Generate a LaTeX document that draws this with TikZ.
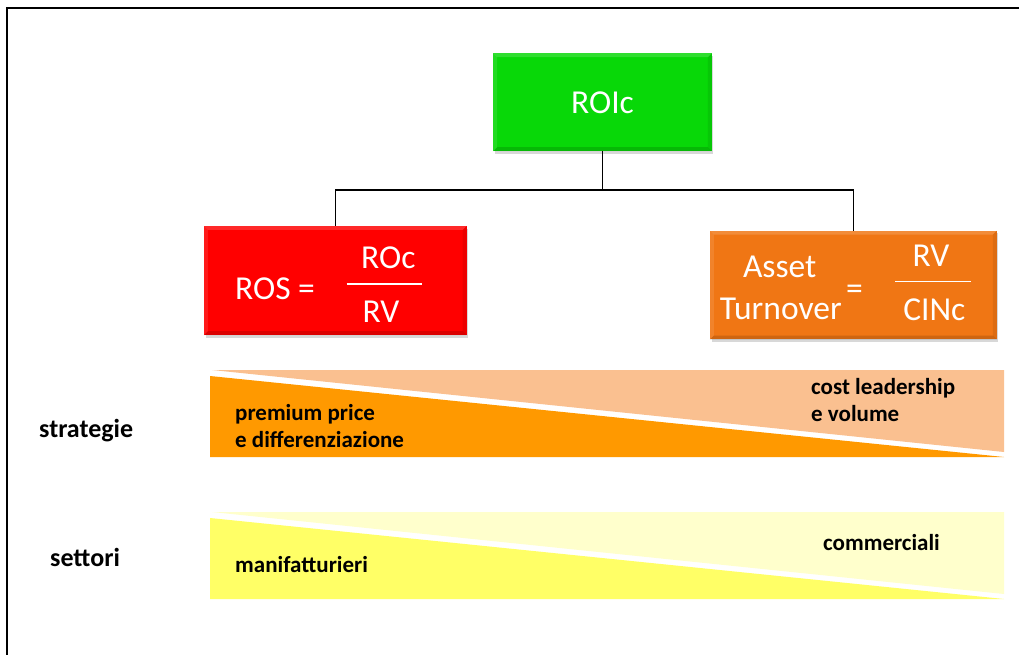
\documentclass[tikz,border=0pt]{standalone}
\usepackage{fontspec}
\setmainfont{Carlito}
\usetikzlibrary{shadows}
\definecolor{roigreen}{RGB}{8,216,8}
\definecolor{rosred}{RGB}{255,0,0}
\definecolor{assetorange}{RGB}{240,118,20}
\definecolor{strdark}{RGB}{255,153,0}
\definecolor{strlight}{RGB}{250,192,144}
\definecolor{setdark}{RGB}{255,255,102}
\definecolor{setlight}{RGB}{255,255,204}
\newcommand\bevelbox[1]{%
  \fill[white,opacity=0.16] (#1.north west) -- (#1.north east) -- ([xshift=-4pt,yshift=-4pt]#1.north east) -- ([xshift=4pt,yshift=-4pt]#1.north west) -- cycle;
  \fill[white,opacity=0.10] (#1.north west) -- (#1.south west) -- ([xshift=4pt,yshift=4pt]#1.south west) -- ([xshift=4pt,yshift=-4pt]#1.north west) -- cycle;
  \fill[black,opacity=0.14] (#1.south west) -- (#1.south east) -- ([xshift=-4pt,yshift=4pt]#1.south east) -- ([xshift=4pt,yshift=4pt]#1.south west) -- cycle;
  \fill[black,opacity=0.08] (#1.north east) -- (#1.south east) -- ([xshift=-4pt,yshift=4pt]#1.south east) -- ([xshift=-4pt,yshift=-4pt]#1.north east) -- cycle;}
\begin{document}
\begin{tikzpicture}[x=1pt,y=-1pt,
  box/.style={draw=none, inner sep=0pt, drop shadow={shadow xshift=1.5pt,shadow yshift=-2.5pt,opacity=0.3}},
  boxtxt/.style={text=white, font=\fontsize{33.5}{40}\selectfont, inner sep=0pt, anchor=base},
  bandtxt/.style={font=\fontsize{23}{28}\selectfont\bfseries, inner sep=0pt, anchor=base west},
  rowlbl/.style={font=\fontsize{26}{31}\selectfont\bfseries, inner sep=0pt, anchor=base west},
  conn/.style={draw=black, line width=1pt},
  fracline/.style={draw=white, line width=1.2pt}]
\fill[white] (0,0) rectangle (1019,655);
\clip (0,0) rectangle (1019,655);
% outer frame
\draw[line width=2pt] (6.7,7.7) rectangle (1040,680);
% boxes
\node[box, fill=roigreen, minimum width=218.4pt, minimum height=97.7pt] (roic) at (602.5,102.2) {};
\node[box, fill=rosred, minimum width=262.5pt, minimum height=109pt] (ros) at (335.25,280.5) {};
\node[box, fill=assetorange, minimum width=286.7pt, minimum height=108.6pt] (asset) at (853.35,285) {};
\bevelbox{roic}
\bevelbox{ros}
\bevelbox{asset}
% connectors
\coordinate (j) at (602.5,190);
\draw[conn] (roic.south) -- (j);
\draw[conn] (j) -| (ros.north);
\draw[conn] (j) -| (asset.north);
% box texts
\node[boxtxt] (troic) at (602.5,114) {ROIc};
\node[boxtxt, anchor=base west] (tros) at (235,299) {ROS =};
\node[boxtxt] (troc) at (388.3,268) {ROc};
\node[boxtxt] (trv) at (381,322) {RV};
\draw[fracline] (346.7,284) -- (422.3,284);
\node[boxtxt] (tasset) at (779.7,277) {Asset};
\node[boxtxt] (tturn) at (780.8,319) {Turnover};
\node[boxtxt] (teq) at (854.5,299) {=};
\node[boxtxt] (trv2) at (931,266) {RV};
\node[boxtxt] (tcinc) at (934.3,320) {CINc};
\draw[fracline] (895,281.7) -- (970.7,281.7);
% strategie band
\fill[strlight] (212,370) -- (1004,370) -- (1004,452) -- cycle;
\fill[strdark] (210,376) -- (1004,457) -- (210,457) -- cycle;
\node[bandtxt] (pp1) at (235,420) {premium price};
\node[bandtxt] (pp2) at (235,447) {e differenziazione};
\node[bandtxt] (cl1) at (811,394) {cost leadership};
\node[bandtxt] (cl2) at (811,421) {e volume};
% settori band
\fill[setlight] (212,512) -- (1004,512) -- (1004,594) -- cycle;
\fill[setdark] (210,518) -- (1004,599) -- (210,599) -- cycle;
\node[bandtxt] (man) at (235,572) {manifatturieri};
\node[bandtxt] (com) at (823,550) {commerciali};
% row labels
\node[rowlbl] (lstr) at (39,437) {strategie};
\node[rowlbl] (lset) at (50,566.5) {settori};
\end{tikzpicture}
\end{document}
